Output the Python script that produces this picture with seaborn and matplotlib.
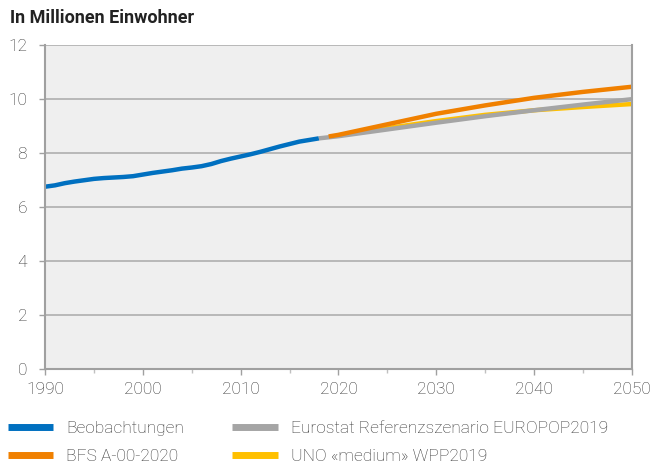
import matplotlib
matplotlib.use("Agg")
import matplotlib.pyplot as plt
import seaborn as sns
import pandas as pd
from matplotlib.lines import Line2D
from matplotlib.ticker import MultipleLocator

obs_years = list(range(1990, 2019))
obs_values = [6.75, 6.80, 6.88, 6.94, 6.99, 7.04, 7.07, 7.09, 7.11, 7.14,
              7.20, 7.26, 7.31, 7.36, 7.42, 7.46, 7.51, 7.59, 7.70, 7.79,
              7.87, 7.95, 8.04, 8.14, 8.24, 8.33, 8.42, 8.48, 8.54]

bfs_years = [2019, 2020, 2025, 2030, 2035, 2040, 2045, 2050]
bfs_values = [8.61, 8.67, 9.06, 9.45, 9.76, 10.04, 10.26, 10.45]

euro_years = [2018, 2020, 2025, 2030, 2035, 2040, 2045, 2050]
euro_values = [8.54, 8.62, 8.87, 9.12, 9.36, 9.58, 9.79, 9.99]

uno_years = [2020, 2025, 2030, 2035, 2040, 2045, 2050]
uno_values = [8.65, 8.92, 9.18, 9.41, 9.58, 9.70, 9.81]

labels = ["Beobachtungen", "BFS A-00-2020",
          "Eurostat Referenzszenario EUROPOP2019", "UNO «medium» WPP2019"]
colors = {"Beobachtungen": "#0070c0", "BFS A-00-2020": "#f08000",
          "Eurostat Referenzszenario EUROPOP2019": "#a5a5a5",
          "UNO «medium» WPP2019": "#ffc000"}

sns.set_theme(style="white")
plt.rcParams["font.family"] = ["Roboto", "DejaVu Sans"]

fig = plt.figure(figsize=(6.54, 4.63), dpi=100)
ax = fig.add_axes([0.069, 0.203, 0.897, 0.700])
ax.set_facecolor("#efefef")

lw = 3.2
draw_order = [("Beobachtungen", obs_years, obs_values),
              ("UNO «medium» WPP2019", uno_years, uno_values),
              ("Eurostat Referenzszenario EUROPOP2019", euro_years, euro_values),
              ("BFS A-00-2020", bfs_years, bfs_values)]
for name, xs, ys in draw_order:
    df = pd.DataFrame({"Jahr": xs, "Wert": ys})
    sns.lineplot(data=df, x="Jahr", y="Wert", ax=ax, color=colors[name],
                 linewidth=lw, solid_capstyle="butt", legend=False)

ax.set_xlim(1990, 2050)
ax.set_ylim(0, 12)
ax.xaxis.set_major_locator(MultipleLocator(10))
ax.xaxis.set_minor_locator(MultipleLocator(5))
ax.yaxis.set_major_locator(MultipleLocator(2))
ax.set_xlabel("")
ax.set_ylabel("")
ax.yaxis.grid(True, color="#b4b4b4", linewidth=1.3)
ax.xaxis.grid(False)
ax.set_axisbelow(True)

for s in ["left", "bottom", "right"]:
    ax.spines[s].set_visible(True)
    ax.spines[s].set_color("#a0a0a0")
    ax.spines[s].set_linewidth(1.5)
ax.spines["top"].set_visible(False)

ax.tick_params(axis="both", which="major", length=4, width=1, color="#a0a0a0",
               labelsize=12.5, labelcolor="#333333", bottom=True, left=True)
ax.tick_params(axis="x", which="minor", length=3, width=1, color="#c0c0c0", bottom=True)
ax.tick_params(axis="y", pad=9)
ax.tick_params(axis="x", pad=5)
for lab in ax.get_xticklabels() + ax.get_yticklabels():
    lab.set_fontweight("light")

fig.text(0.015, 0.962, "In Millionen Einwohner", fontsize=13, fontweight="bold",
         color="#222222", ha="left", va="center")

handles = [Line2D([0], [0], color=colors[l], linewidth=5, solid_capstyle="butt")
           for l in labels]
leg = fig.legend(handles, labels, ncol=2, loc="lower left", bbox_to_anchor=(-0.012, -0.036),
                 frameon=False, fontsize=12.5, handlelength=2.6, handletextpad=0.75,
                 columnspacing=2.8, labelspacing=0.75, labelcolor="#333333")
for t in leg.get_texts():
    t.set_fontweight("light")

fig.savefig("out.png", dpi=100)
